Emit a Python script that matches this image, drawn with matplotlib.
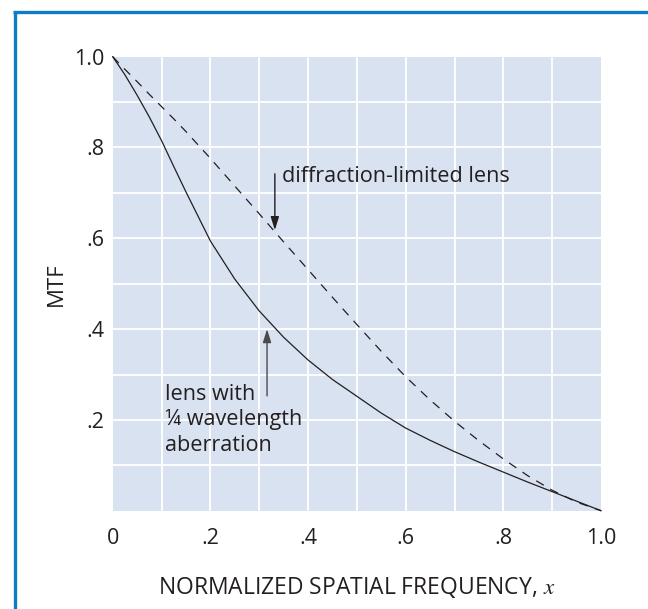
import matplotlib
matplotlib.use("Agg")
import matplotlib.pyplot as plt
from matplotlib.lines import Line2D

plt.rcParams['font.family'] = ['Open Sans', 'DejaVu Sans']
plt.rcParams['mathtext.fontset'] = 'stix'

# Data
freq = [0.0, 0.025, 0.05, 0.075, 0.10, 0.125, 0.15, 0.20, 0.25, 0.30, 0.35, 0.40, 0.45, 0.50,
        0.55, 0.60, 0.65, 0.70, 0.75, 0.80, 0.85, 0.90, 0.95, 1.0]
mtf_diffraction = [1.0, 0.972, 0.945, 0.917, 0.890, 0.863, 0.835, 0.776, 0.715, 0.654, 0.592,
                   0.531, 0.470, 0.410, 0.351, 0.295, 0.244, 0.197, 0.154, 0.114, 0.077,
                   0.045, 0.019, 0.0]
mtf_aberration = [1.0, 0.960, 0.915, 0.867, 0.815, 0.758, 0.702, 0.594, 0.510, 0.440, 0.382,
                  0.332, 0.289, 0.252, 0.215, 0.182, 0.155, 0.130, 0.107, 0.085, 0.063,
                  0.042, 0.021, 0.0]

x_ticks = [0, 0.2, 0.4, 0.6, 0.8, 1.0]
x_ticklabels = ['0', '.2', '.4', '.6', '.8', '1.0']
y_ticks = [0.2, 0.4, 0.6, 0.8, 1.0]
y_ticklabels = ['.2', '.4', '.6', '.8', '1.0']
grid_steps = [i / 10 for i in range(11)]

ink = '#231f20'
fig = plt.figure(figsize=(6.48, 6.09), dpi=100)
ax = fig.add_axes([0.174, 0.1614, 0.7535, 0.7455])
ax.set_facecolor('#d9e2f0')
for s in ax.spines.values():
    s.set_visible(False)

for g in grid_steps[1:-1]:
    ax.axvline(g, color='white', lw=1.3, zorder=1)
    ax.axhline(g, color='white', lw=1.3, zorder=1)

ax.plot(freq, mtf_diffraction, color=ink, lw=0.9, dashes=(7, 6), zorder=3, clip_on=False)
ax.plot(freq, mtf_aberration, color=ink, lw=0.9, zorder=3, clip_on=False)

ax.set_xlim(0, 1)
ax.set_ylim(0, 1)
ax.set_xticks(x_ticks)
ax.set_xticklabels(x_ticklabels)
ax.set_yticks(y_ticks)
ax.set_yticklabels(y_ticklabels)
ax.tick_params(length=0, labelsize=15.5, colors=ink)
ax.tick_params(axis='x', pad=12.5)
ax.tick_params(axis='y', pad=6)

ax.set_xlabel('NORMALIZED SPATIAL FREQUENCY, $x$', fontsize=16.5, color=ink, labelpad=19)
ax.set_ylabel('MTF', fontsize=16, color=ink, labelpad=5)

ax.annotate('', xy=(0.332, 0.618), xytext=(0.332, 0.742),
            arrowprops=dict(arrowstyle='-|>,head_length=0.8,head_width=0.25',
                            color=ink, lw=1.0, shrinkA=0, shrinkB=0), zorder=4)
ax.text(0.347, 0.737, 'diffraction-limited lens', fontsize=15.6, color=ink,
        ha='left', va='center', zorder=4)

ax.annotate('', xy=(0.316, 0.40), xytext=(0.316, 0.253),
            arrowprops=dict(arrowstyle='-|>,head_length=0.8,head_width=0.25',
                            color='#4a4a4a', lw=1.0, shrinkA=0, shrinkB=0), zorder=4)
ax.text(0.107, 0.280, 'lens with\n¼ wavelength\naberration', fontsize=15.6, color=ink,
        ha='left', va='top', linespacing=1.3, zorder=4)

blue = '#0f7dc4'
fig.add_artist(Line2D([14.5 / 648, 14.5 / 648], [0, 1 - 11.5 / 609],
                      transform=fig.transFigure, color=blue, lw=2.4, solid_capstyle='butt'))
fig.add_artist(Line2D([13 / 648, 1], [1 - 11.5 / 609, 1 - 11.5 / 609],
                      transform=fig.transFigure, color=blue, lw=2.4, solid_capstyle='butt'))

fig.savefig('out.png', dpi=100)
